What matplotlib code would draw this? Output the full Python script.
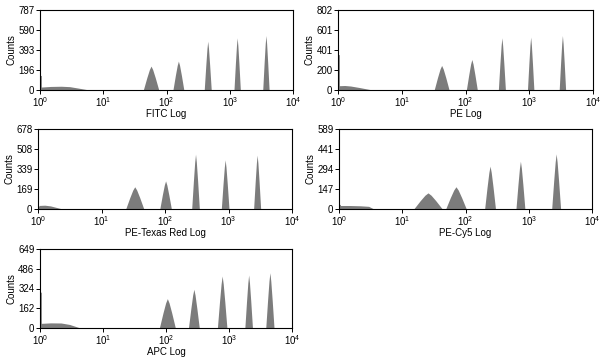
import matplotlib
matplotlib.use("Agg")
import matplotlib.pyplot as plt

plt.rcParams['font.family'] = ['Liberation Sans', 'DejaVu Sans']
plt.rcParams['mathtext.fontset'] = 'custom'
plt.rcParams['mathtext.rm'] = 'Liberation Sans'
plt.rcParams['mathtext.it'] = 'Liberation Sans'
plt.rcParams['mathtext.bf'] = 'Liberation Sans'

# ---- data ----
x_labels = ["FITC Log", "PE Log", "PE-Texas Red Log", "PE-Cy5 Log", "APC Log"]
y_max = [787, 802, 678, 589, 649]
y_tick_labels = [
    ["0", "196", "393", "590", "787"],
    ["0", "200", "401", "601", "802"],
    ["0", "169", "339", "508", "678"],
    ["0", "147", "294", "441", "589"],
    ["0", "162", "324", "486", "649"],
]
x_tick_labels = [r"$\mathregular{10^{0}}$", r"$\mathregular{10^{1}}$",
                 r"$\mathregular{10^{2}}$", r"$\mathregular{10^{3}}$",
                 r"$\mathregular{10^{4}}$"]
x_ticks = [1, 10, 100, 1000, 10000]

# bead peaks: centre (fluorescence units), height (counts), base width (decades)
peak_centers = [
    [58, 157, 457, 1334, 3800],
    [43, 128, 379, 1072, 3373],
    [34, 104, 308, 902, 2877],
    [26, 72, 249, 752, 2761],
    [107, 282, 793, 2089, 4539],
]
peak_heights = [
    [230, 279, 475, 508, 531],
    [241, 301, 518, 525, 541],
    [184, 234, 460, 412, 452],
    [115, 160, 312, 348, 402],
    [237, 314, 423, 431, 450],
]
peak_widths = [
    [0.24, 0.17, 0.11, 0.10, 0.10],
    [0.23, 0.17, 0.11, 0.10, 0.10],
    [0.28, 0.18, 0.12, 0.12, 0.11],
    [0.44, 0.32, 0.17, 0.14, 0.14],
    [0.25, 0.17, 0.15, 0.12, 0.13],
]
# low-end debris outline: x (fluorescence units), y (counts)
debris_x = [
    [1.0, 1.0, 1.07, 1.07, 1.5, 2.2, 3.0, 4.0, 5.5],
    [1.0, 1.0, 1.07, 1.07, 1.3, 1.6, 2.2, 3.2],
    [1.0, 1.0, 1.07, 1.07, 1.3, 1.6, 2.3],
    [1.0, 1.0, 1.07, 1.07, 1.5, 2.2, 3.0, 3.5],
    [1.0, 1.0, 1.07, 1.07, 1.5, 2.2, 3.0, 4.2],
]
debris_y = [
    [0, 138, 138, 24, 30, 32, 28, 15, 0],
    [0, 350, 350, 38, 40, 35, 20, 0],
    [0, 22, 22, 26, 28, 22, 0],
    [0, 30, 30, 22, 22, 20, 16, 0],
    [0, 290, 290, 34, 38, 37, 25, 0],
]

# ---- layout (pixel boxes: x0, x1, ytop, ybot) ----
boxes = [(40, 293, 10, 90), (338, 593, 10, 90),
         (38, 292, 129, 209), (339, 592, 129, 209),
         (40, 292, 249, 328)]
W, H = 600, 359
fill_color = "#7c7c7c"
# peak outline style: (fraction of base width from centre, fraction of height)
shape_dx = [-0.5, -0.28, -0.11, 0.0, 0.11, 0.28, 0.5]
shape_dy = [0.0, 0.5, 0.85, 1.0, 0.85, 0.5, 0.0]

fig = plt.figure(figsize=(6, 3.59), dpi=100)
for i, (x0, x1, yt, yb) in enumerate(boxes):
    ax = fig.add_axes([x0 / W, 1 - yb / H, (x1 - x0) / W, (yb - yt) / H])
    ax.set_xscale("log")
    ax.set_xlim(1, 10000)
    ax.set_ylim(0, y_max[i])
    ax.fill(debris_x[i], debris_y[i], color=fill_color, lw=0)
    for c, h, w in zip(peak_centers[i], peak_heights[i], peak_widths[i]):
        xs = [c * 10 ** (d * w) for d in shape_dx]
        ys = [h * d for d in shape_dy]
        ax.fill(xs, ys, color=fill_color, lw=0)
    ax.set_yticks([y_max[i] * k / 4 for k in range(5)])
    ax.set_yticklabels(y_tick_labels[i])
    ax.set_xticks(x_ticks)
    ax.set_xticklabels(x_tick_labels)
    ax.xaxis.set_minor_locator(matplotlib.ticker.NullLocator())
    ax.tick_params(axis="both", direction="out", length=3, width=0.7,
                   labelsize=7, pad=1)
    ax.set_xlabel(x_labels[i], fontsize=7, labelpad=0)
    ax.set_ylabel("Counts", fontsize=7, labelpad=1)
    for s in ax.spines.values():
        s.set_linewidth(0.8)

fig.savefig("out.png", dpi=100)
